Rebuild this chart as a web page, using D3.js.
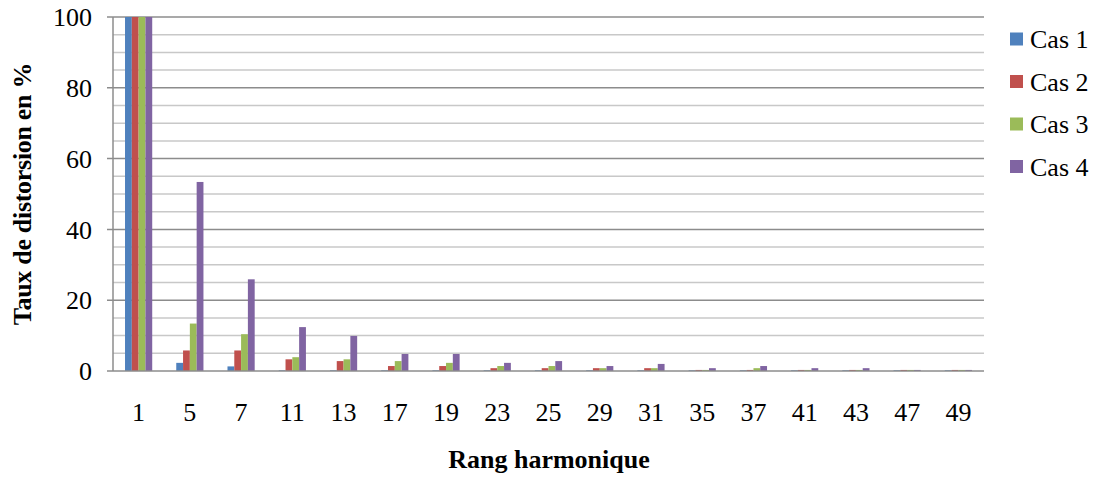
<!DOCTYPE html>
<html><head><meta charset="utf-8">
<script src="https://cdn.jsdelivr.net/npm/d3@7"></script>
<style>body{margin:0;background:#fff}svg{display:block}</style>
</head><body>
<script>
const categories = ["1","5","7","11","13","17","19","23","25","29","31","35","37","41","43","47","49"];
const seriesNames = ["Cas 1","Cas 2","Cas 3","Cas 4"];
const cas1 = [100, 2.3, 1.3, 0.2, 0.2, 0.2, 0.2, 0.2, 0.2, 0.2, 0.2, 0.2, 0.2, 0.2, 0.2, 0.2, 0.2];
const cas2 = [100, 5.8, 5.8, 3.3, 2.8, 1.4, 1.4, 0.8, 0.8, 0.8, 0.8, 0.3, 0.3, 0.3, 0.3, 0.3, 0.3];
const cas3 = [100, 13.4, 10.4, 3.9, 3.3, 2.8, 2.3, 1.4, 1.4, 0.8, 0.8, 0.3, 0.8, 0.3, 0.3, 0.3, 0.3];
const cas4 = [100, 53.4, 25.9, 12.4, 9.9, 4.8, 4.8, 2.3, 2.8, 1.4, 2.0, 0.8, 1.4, 0.8, 0.8, 0.3, 0.3];
const yTicks = [0, 20, 40, 60, 80, 100];
const colors = ["#4F81BD", "#C0504D", "#9BBB59", "#8064A2"];
const allSeries = [cas1, cas2, cas3, cas4];
const FONT = "Liberation Serif";

const W = 1094, H = 477;
const L = 113, R = 984, T = 17, B = 371;
const svg = d3.select("body").append("svg").attr("width", W).attr("height", H);

const y = d3.scaleLinear().domain([0, 100]).range([B, T]);
const x0 = d3.scaleBand().domain(categories).range([L, R]).padding(0);
const bw = x0.bandwidth();
const grpW = 27.2;
const x1 = d3.scaleBand().domain(seriesNames).range([(bw - grpW) / 2, (bw + grpW) / 2]).padding(0);

const minor = d3.range(5, 100, 5).filter(v => v % 20 !== 0);
svg.append("g").selectAll("line").data(minor).join("line")
  .attr("x1", L).attr("x2", R).attr("y1", d => y(d)).attr("y2", d => y(d))
  .attr("stroke", "#c8c8c8").attr("stroke-width", 1.5);
svg.append("g").selectAll("line").data(yTicks.filter(v => v > 0)).join("line")
  .attr("x1", L - 6).attr("x2", R).attr("y1", d => y(d)).attr("y2", d => y(d))
  .attr("stroke", "#8c8c8c").attr("stroke-width", 1.5);

const g = svg.append("g");
allSeries.forEach((vals, si) => {
  g.append("g").selectAll("rect").data(vals).join("rect")
    .attr("x", (d, i) => x0(categories[i]) + x1(seriesNames[si]))
    .attr("width", x1.bandwidth())
    .attr("y", d => y(d))
    .attr("height", d => y(0) - y(d))
    .attr("fill", colors[si]);
});

svg.append("line").attr("x1", L).attr("x2", L).attr("y1", T).attr("y2", B)
  .attr("stroke", "#8c8c8c").attr("stroke-width", 1.5);
svg.append("line").attr("x1", L - 6).attr("x2", R).attr("y1", B).attr("y2", B)
  .attr("stroke", "#8c8c8c").attr("stroke-width", 1.5);

svg.append("g").selectAll("text").data(yTicks).join("text")
  .attr("font-family", FONT)
  .attr("x", 92).attr("y", d => y(d)).attr("dy", "0.35em")
  .attr("text-anchor", "end").attr("font-size", 26).text(d => d);

svg.append("g").selectAll("text").data(categories).join("text")
  .attr("font-family", FONT)
  .attr("x", d => x0(d) + bw / 2).attr("y", 412).attr("dy", "0.35em")
  .attr("text-anchor", "middle").attr("font-size", 26).text(d => d);

svg.append("text").attr("font-family", FONT).attr("x", 549).attr("y", 459).attr("dy", "0.35em")
  .attr("text-anchor", "middle").attr("font-size", 26).attr("font-weight", "bold")
  .text("Rang harmonique");
svg.append("text").attr("font-family", FONT).attr("transform", "translate(22,194) rotate(-90)").attr("dy", "0.35em")
  .attr("text-anchor", "middle").attr("font-size", 26).attr("font-weight", "bold")
  .attr("letter-spacing", -0.3)
  .text("Taux de distorsion en %");

const lg = svg.append("g").selectAll("g").data(seriesNames).join("g")
  .attr("transform", (d, i) => `translate(1010,${39 + i * 42.5})`);
lg.append("rect").attr("x", 0).attr("y", -6.5).attr("width", 13).attr("height", 13)
  .attr("fill", (d, i) => colors[i]);
lg.append("text").attr("font-family", FONT).attr("x", 20).attr("y", 0).attr("dy", "0.35em")
  .attr("font-size", 26).text(d => d);
</script>
</body></html>
